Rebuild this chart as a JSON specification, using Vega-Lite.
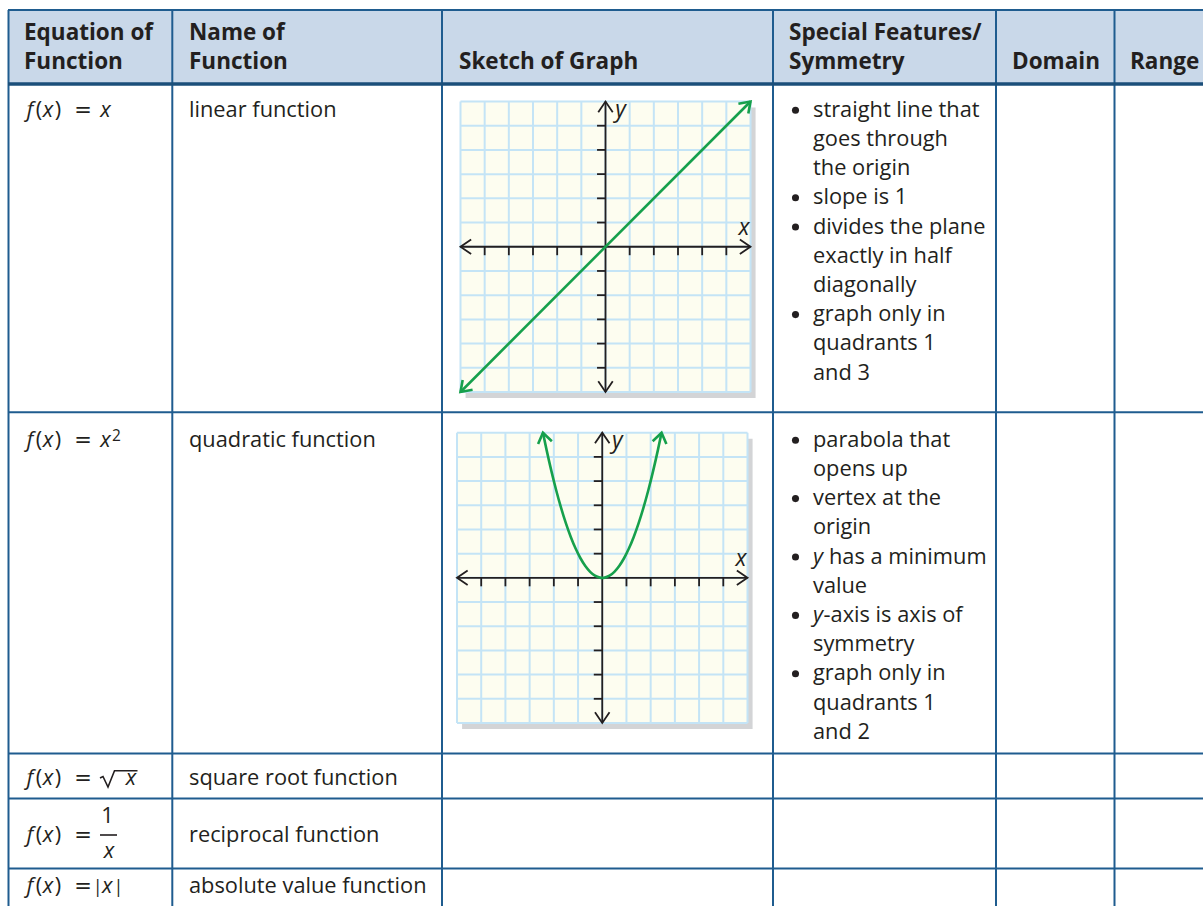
{
  "$schema": "https://vega.github.io/schema/vega-lite/v6.json",
  "width": 1203,
  "height": 906,
  "padding": 0,
  "autosize": {"type": "none"},
  "background": "white",
  "config": {
    "view": {"stroke": null},
    "text": {"font": "Open Sans", "fontSize": 21.8, "color": "#231f20", "baseline": "alphabetic"}
  },
  "datasets": {
    "hdr": [{"x": 8, "x2": 1203, "y": 10, "y2": 84}],
    "tl": [
      {"x": 8, "x2": 1203, "y": 10, "y2": 10, "k": "thin"},
      {"x": 8, "x2": 1203, "y": 412.3, "y2": 412.3, "k": "thin"},
      {"x": 8, "x2": 1203, "y": 753.5, "y2": 753.5, "k": "thin"},
      {"x": 8, "x2": 1203, "y": 798.5, "y2": 798.5, "k": "thin"},
      {"x": 8, "x2": 1203, "y": 868.5, "y2": 868.5, "k": "thin"},
      {"x": 8.5, "x2": 8.5, "y": 10, "y2": 906, "k": "thin"},
      {"x": 172.3, "x2": 172.3, "y": 10, "y2": 906, "k": "thin"},
      {"x": 442, "x2": 442, "y": 10, "y2": 906, "k": "thin"},
      {"x": 773, "x2": 773, "y": 10, "y2": 906, "k": "thin"},
      {"x": 996, "x2": 996, "y": 10, "y2": 906, "k": "thin"},
      {"x": 1114.5, "x2": 1114.5, "y": 10, "y2": 906, "k": "thin"},
      {"x": 8, "x2": 1203, "y": 84, "y2": 84, "k": "thick"},
      {"x": 100, "x2": 117, "y": 835, "y2": 835, "k": "math"}
    ],
    "rad": [
      {"x": 100, "y": 778, "o": 1},
      {"x": 103, "y": 776.5, "o": 2},
      {"x": 108, "y": 787, "o": 3},
      {"x": 114.5, "y": 770.7, "o": 4},
      {"x": 137.5, "y": 770.7, "o": 5}
    ],
    "txt": [
      {"x": 24, "y": 40, "t": "Equation of", "k": "head"},
      {"x": 24, "y": 69, "t": "Function", "k": "head"},
      {"x": 189, "y": 40, "t": "Name of", "k": "head"},
      {"x": 189, "y": 69, "t": "Function", "k": "head"},
      {"x": 459, "y": 69, "t": "Sketch of Graph", "k": "head"},
      {"x": 789, "y": 40, "t": "Special Features/", "k": "head"},
      {"x": 789, "y": 69, "t": "Symmetry", "k": "head"},
      {"x": 1012, "y": 69, "t": "Domain", "k": "head"},
      {"x": 1130, "y": 69, "t": "Range", "k": "head"},

      {"x": 189, "y": 116.7, "t": "linear function", "k": "body"},
      {"x": 189, "y": 446.7, "t": "quadratic function", "k": "body"},
      {"x": 189, "y": 785, "t": "square root function", "k": "body"},
      {"x": 189, "y": 841.7, "t": "reciprocal function", "k": "body"},
      {"x": 189, "y": 892.7, "t": "absolute value function", "k": "body"},

      {"x": 813, "y": 116.7, "t": "straight line that", "k": "body"},
      {"x": 813, "y": 145.9, "t": "goes through", "k": "body"},
      {"x": 813, "y": 175.1, "t": "the origin", "k": "body"},
      {"x": 813, "y": 204.3, "t": "slope is 1", "k": "body"},
      {"x": 813, "y": 233.5, "t": "divides the plane", "k": "body"},
      {"x": 813, "y": 262.7, "t": "exactly in half", "k": "body"},
      {"x": 813, "y": 291.9, "t": "diagonally", "k": "body"},
      {"x": 813, "y": 321.1, "t": "graph only in", "k": "body"},
      {"x": 813, "y": 350.3, "t": "quadrants 1", "k": "body"},
      {"x": 813, "y": 379.5, "t": "and 3", "k": "body"},
      {"x": 795.5, "y": 116.7, "t": "•", "k": "bul"},
      {"x": 795.5, "y": 204.3, "t": "•", "k": "bul"},
      {"x": 795.5, "y": 233.5, "t": "•", "k": "bul"},
      {"x": 795.5, "y": 321.1, "t": "•", "k": "bul"},

      {"x": 813, "y": 446.7, "t": "parabola that", "k": "body"},
      {"x": 813, "y": 475.9, "t": "opens up", "k": "body"},
      {"x": 813, "y": 505.1, "t": "vertex at the", "k": "body"},
      {"x": 813, "y": 534.3, "t": "origin", "k": "body"},
      {"x": 813, "y": 563.5, "t": "y", "k": "il"},
      {"x": 829, "y": 563.5, "t": "has a minimum", "k": "body"},
      {"x": 813, "y": 592.7, "t": "value", "k": "body"},
      {"x": 813, "y": 621.9, "t": "y", "k": "il"},
      {"x": 823.5, "y": 621.9, "t": "-axis is axis of", "k": "body"},
      {"x": 813, "y": 651.1, "t": "symmetry", "k": "body"},
      {"x": 813, "y": 680.3, "t": "graph only in", "k": "body"},
      {"x": 813, "y": 709.5, "t": "quadrants 1", "k": "body"},
      {"x": 813, "y": 738.7, "t": "and 2", "k": "body"},
      {"x": 795.5, "y": 446.7, "t": "•", "k": "bul"},
      {"x": 795.5, "y": 505.1, "t": "•", "k": "bul"},
      {"x": 795.5, "y": 563.5, "t": "•", "k": "bul"},
      {"x": 795.5, "y": 621.9, "t": "•", "k": "bul"},
      {"x": 795.5, "y": 680.3, "t": "•", "k": "bul"},

      {"x": 30, "y": 116.7, "t": "f", "k": "ic"},
      {"x": 39, "y": 116.7, "t": "(", "k": "uc"},
      {"x": 48, "y": 116.7, "t": "x", "k": "ic"},
      {"x": 58, "y": 116.7, "t": ")", "k": "uc"},
      {"x": 83, "y": 116.7, "t": "=", "k": "eq"},
      {"x": 105.5, "y": 116.7, "t": "x", "k": "ic"},

      {"x": 30, "y": 446.7, "t": "f", "k": "ic"},
      {"x": 39, "y": 446.7, "t": "(", "k": "uc"},
      {"x": 48, "y": 446.7, "t": "x", "k": "ic"},
      {"x": 58, "y": 446.7, "t": ")", "k": "uc"},
      {"x": 83, "y": 446.7, "t": "=", "k": "eq"},
      {"x": 105.5, "y": 446.7, "t": "x", "k": "ic"},
      {"x": 116.5, "y": 440.7, "t": "2", "k": "sup"},

      {"x": 30, "y": 785, "t": "f", "k": "ic"},
      {"x": 39, "y": 785, "t": "(", "k": "uc"},
      {"x": 48, "y": 785, "t": "x", "k": "ic"},
      {"x": 58, "y": 785, "t": ")", "k": "uc"},
      {"x": 83, "y": 785, "t": "=", "k": "eq"},
      {"x": 131, "y": 785, "t": "x", "k": "ic"},

      {"x": 30, "y": 841.7, "t": "f", "k": "ic"},
      {"x": 39, "y": 841.7, "t": "(", "k": "uc"},
      {"x": 48, "y": 841.7, "t": "x", "k": "ic"},
      {"x": 58, "y": 841.7, "t": ")", "k": "uc"},
      {"x": 83, "y": 841.7, "t": "=", "k": "eq"},
      {"x": 107.5, "y": 823.3, "t": "1", "k": "uc"},
      {"x": 109, "y": 858.3, "t": "x", "k": "ic"},

      {"x": 30, "y": 892.7, "t": "f", "k": "ic"},
      {"x": 39, "y": 892.7, "t": "(", "k": "uc"},
      {"x": 48, "y": 892.7, "t": "x", "k": "ic"},
      {"x": 58, "y": 892.7, "t": ")", "k": "uc"},
      {"x": 83, "y": 892.7, "t": "=", "k": "eq"},
      {"x": 97.8, "y": 892.7, "t": "|", "k": "bar"},
      {"x": 107.3, "y": 892.7, "t": "x", "k": "ic"},
      {"x": 118.5, "y": 892.7, "t": "|", "k": "bar"}
    ],
    "gbox": [
      {"x": -5.79, "y": -6.25, "x2": 6.21, "y2": 5.75, "k": "shadow"},
      {"x": -6, "y": -6, "x2": 6, "y2": 6, "k": "bg"}
    ],
    "ggrid": [
      {"x": -6, "y": -6, "x2": -6, "y2": 6}, {"x": -5, "y": -6, "x2": -5, "y2": 6},
      {"x": -4, "y": -6, "x2": -4, "y2": 6}, {"x": -3, "y": -6, "x2": -3, "y2": 6},
      {"x": -2, "y": -6, "x2": -2, "y2": 6}, {"x": -1, "y": -6, "x2": -1, "y2": 6},
      {"x": 0, "y": -6, "x2": 0, "y2": 6}, {"x": 1, "y": -6, "x2": 1, "y2": 6},
      {"x": 2, "y": -6, "x2": 2, "y2": 6}, {"x": 3, "y": -6, "x2": 3, "y2": 6},
      {"x": 4, "y": -6, "x2": 4, "y2": 6}, {"x": 5, "y": -6, "x2": 5, "y2": 6},
      {"x": 6, "y": -6, "x2": 6, "y2": 6},
      {"x": -6, "y": -6, "x2": 6, "y2": -6}, {"x": -6, "y": -5, "x2": 6, "y2": -5},
      {"x": -6, "y": -4, "x2": 6, "y2": -4}, {"x": -6, "y": -3, "x2": 6, "y2": -3},
      {"x": -6, "y": -2, "x2": 6, "y2": -2}, {"x": -6, "y": -1, "x2": 6, "y2": -1},
      {"x": -6, "y": 0, "x2": 6, "y2": 0}, {"x": -6, "y": 1, "x2": 6, "y2": 1},
      {"x": -6, "y": 2, "x2": 6, "y2": 2}, {"x": -6, "y": 3, "x2": 6, "y2": 3},
      {"x": -6, "y": 4, "x2": 6, "y2": 4}, {"x": -6, "y": 5, "x2": 6, "y2": 5},
      {"x": -6, "y": 6, "x2": 6, "y2": 6}
    ],
    "gaxes": [
      {"x": -6, "y": 0, "x2": 6, "y2": 0}, {"x": 0, "y": -6, "x2": 0, "y2": 6},
      {"x": -5, "y": 0, "x2": -5, "y2": -0.35}, {"x": -4, "y": 0, "x2": -4, "y2": -0.35},
      {"x": -3, "y": 0, "x2": -3, "y2": -0.35}, {"x": -2, "y": 0, "x2": -2, "y2": -0.35},
      {"x": -1, "y": 0, "x2": -1, "y2": -0.35}, {"x": 1, "y": 0, "x2": 1, "y2": -0.35},
      {"x": 2, "y": 0, "x2": 2, "y2": -0.35}, {"x": 3, "y": 0, "x2": 3, "y2": -0.35},
      {"x": 4, "y": 0, "x2": 4, "y2": -0.35}, {"x": 5, "y": 0, "x2": 5, "y2": -0.35},
      {"x": 0, "y": -5, "x2": -0.35, "y2": -5}, {"x": 0, "y": -4, "x2": -0.35, "y2": -4},
      {"x": 0, "y": -3, "x2": -0.35, "y2": -3}, {"x": 0, "y": -2, "x2": -0.35, "y2": -2},
      {"x": 0, "y": -1, "x2": -0.35, "y2": -1}, {"x": 0, "y": 1, "x2": -0.35, "y2": 1},
      {"x": 0, "y": 2, "x2": -0.35, "y2": 2}, {"x": 0, "y": 3, "x2": -0.35, "y2": 3},
      {"x": 0, "y": 4, "x2": -0.35, "y2": 4}, {"x": 0, "y": 5, "x2": -0.35, "y2": 5}
    ],
    "gchev": [
      {"id": "a1", "o": 1, "x": 5.56, "y": 0.3}, {"id": "a1", "o": 2, "x": 6, "y": 0}, {"id": "a1", "o": 3, "x": 5.56, "y": -0.3},
      {"id": "a2", "o": 1, "x": -5.56, "y": 0.3}, {"id": "a2", "o": 2, "x": -6, "y": 0}, {"id": "a2", "o": 3, "x": -5.56, "y": -0.3},
      {"id": "a3", "o": 1, "x": -0.3, "y": 5.56}, {"id": "a3", "o": 2, "x": 0, "y": 6}, {"id": "a3", "o": 3, "x": 0.3, "y": 5.56},
      {"id": "a4", "o": 1, "x": -0.3, "y": -5.56}, {"id": "a4", "o": 2, "x": 0, "y": -6}, {"id": "a4", "o": 3, "x": 0.3, "y": -5.56}
    ],
    "glbl": [
      {"x": 0.4, "y": 5.35, "t": "y"},
      {"x": 5.5, "y": 0.47, "t": "x"}
    ],
    "lin": [
      {"x": -6, "y": -6},
      {"x": 6, "y": 6}
    ],
    "par": [
      {"x": -2.45, "y": 6.0}, {"x": -2.3, "y": 5.29}, {"x": -2.1, "y": 4.41},
      {"x": -1.9, "y": 3.61}, {"x": -1.7, "y": 2.89}, {"x": -1.5, "y": 2.25},
      {"x": -1.3, "y": 1.69}, {"x": -1.1, "y": 1.21}, {"x": -0.9, "y": 0.81},
      {"x": -0.7, "y": 0.49}, {"x": -0.5, "y": 0.25}, {"x": -0.3, "y": 0.09},
      {"x": -0.1, "y": 0.01}, {"x": 0, "y": 0}, {"x": 0.1, "y": 0.01},
      {"x": 0.3, "y": 0.09}, {"x": 0.5, "y": 0.25}, {"x": 0.7, "y": 0.49},
      {"x": 0.9, "y": 0.81}, {"x": 1.1, "y": 1.21}, {"x": 1.3, "y": 1.69},
      {"x": 1.5, "y": 2.25}, {"x": 1.7, "y": 2.89}, {"x": 1.9, "y": 3.61},
      {"x": 2.1, "y": 4.41}, {"x": 2.3, "y": 5.29}, {"x": 2.45, "y": 6.0}
    ],
    "grchev": [
      {"g": 1, "id": "c1", "o": 1, "x": 5.5, "y": 5.91}, {"g": 1, "id": "c1", "o": 2, "x": 6, "y": 6}, {"g": 1, "id": "c1", "o": 3, "x": 5.91, "y": 5.5},
      {"g": 1, "id": "c2", "o": 1, "x": -5.5, "y": -5.91}, {"g": 1, "id": "c2", "o": 2, "x": -6, "y": -6}, {"g": 1, "id": "c2", "o": 3, "x": -5.91, "y": -5.5},
      {"g": 2, "id": "p1", "o": 1, "x": 2.082, "y": 5.646}, {"g": 2, "id": "p1", "o": 2, "x": 2.45, "y": 6}, {"g": 2, "id": "p1", "o": 3, "x": 2.65, "y": 5.53},
      {"g": 2, "id": "p2", "o": 1, "x": -2.082, "y": 5.646}, {"g": 2, "id": "p2", "o": 2, "x": -2.45, "y": 6}, {"g": 2, "id": "p2", "o": 3, "x": -2.65, "y": 5.53}
    ]
  },
  "resolve": {"scale": {"x": "independent", "y": "independent"}},
  "layer": [
    {
      "encoding": {
        "x": {"field": "x", "type": "quantitative", "scale": {"domain": [0, 1203], "range": [0, 1203], "nice": false, "zero": false}, "axis": null},
        "y": {"field": "y", "type": "quantitative", "scale": {"domain": [0, 906], "range": [0, 906], "nice": false, "zero": false}, "axis": null}
      },
      "layer": [
        {"data": {"name": "hdr"}, "mark": {"type": "rect", "color": "#c9d8e9"}, "encoding": {"x2": {"field": "x2"}, "y2": {"field": "y2"}}},
        {"data": {"name": "txt"}, "transform": [{"filter": "datum.k === 'head'"}], "mark": {"type": "text", "fontWeight": "bold", "align": "left", "fontSize": 22.5}, "encoding": {"text": {"field": "t"}}},
        {"data": {"name": "txt"}, "transform": [{"filter": "datum.k === 'body'"}], "mark": {"type": "text", "align": "left"}, "encoding": {"text": {"field": "t"}}},
        {"data": {"name": "txt"}, "transform": [{"filter": "datum.k === 'il'"}], "mark": {"type": "text", "align": "left", "fontStyle": "italic"}, "encoding": {"text": {"field": "t"}}},
        {"data": {"name": "txt"}, "transform": [{"filter": "datum.k === 'uc'"}], "mark": {"type": "text", "align": "center"}, "encoding": {"text": {"field": "t"}}},
        {"data": {"name": "txt"}, "transform": [{"filter": "datum.k === 'bar'"}], "mark": {"type": "text", "align": "center", "fontSize": 18}, "encoding": {"text": {"field": "t"}}},
        {"data": {"name": "txt"}, "transform": [{"filter": "datum.k === 'eq'"}], "mark": {"type": "text", "align": "center", "font": "DejaVu Sans", "fontSize": 21}, "encoding": {"text": {"field": "t"}}},
        {"data": {"name": "txt"}, "transform": [{"filter": "datum.k === 'ic'"}], "mark": {"type": "text", "align": "center", "fontStyle": "italic"}, "encoding": {"text": {"field": "t"}}},
        {"data": {"name": "txt"}, "transform": [{"filter": "datum.k === 'sup'"}], "mark": {"type": "text", "align": "center", "fontSize": 15.5}, "encoding": {"text": {"field": "t"}}},
        {"data": {"name": "txt"}, "transform": [{"filter": "datum.k === 'bul'"}], "mark": {"type": "circle", "size": 50, "color": "#231f20", "opacity": 1, "yOffset": -6.5}, "encoding": {}},
        {"data": {"name": "rad"}, "mark": {"type": "line", "color": "#231f20", "strokeWidth": 1.6}, "encoding": {"order": {"field": "o"}}},
        {"data": {"name": "tl"}, "transform": [{"filter": "datum.k === 'math'"}], "mark": {"type": "rule", "color": "#231f20", "strokeWidth": 1.6}, "encoding": {"x2": {"field": "x2"}, "y2": {"field": "y2"}}},
        {"data": {"name": "tl"}, "transform": [{"filter": "datum.k === 'thin'"}], "mark": {"type": "rule", "color": "#1f5c8f", "strokeWidth": 2}, "encoding": {"x2": {"field": "x2"}, "y2": {"field": "y2"}}},
        {"data": {"name": "tl"}, "transform": [{"filter": "datum.k === 'thick'"}], "mark": {"type": "rule", "color": "#1b4f7a", "strokeWidth": 3.5}, "encoding": {"x2": {"field": "x2"}, "y2": {"field": "y2"}}}
      ]
    },
    {
      "encoding": {
        "x": {"field": "x", "type": "quantitative", "scale": {"domain": [-6, 6], "range": [460.5, 750.5], "nice": false, "zero": false}, "axis": null},
        "y": {"field": "y", "type": "quantitative", "scale": {"domain": [-6, 6], "range": [392, 101.5], "nice": false, "zero": false}, "axis": null}
      },
      "layer": [
        {"data": {"name": "gbox"}, "transform": [{"filter": "datum.k === 'shadow'"}], "mark": {"type": "rect", "color": "#d3d4d6"}, "encoding": {"x2": {"field": "x2"}, "y2": {"field": "y2"}}},
        {"data": {"name": "gbox"}, "transform": [{"filter": "datum.k === 'bg'"}], "mark": {"type": "rect", "color": "#fdfdf0"}, "encoding": {"x2": {"field": "x2"}, "y2": {"field": "y2"}}},
        {"data": {"name": "ggrid"}, "mark": {"type": "rule", "color": "#c4e4f6", "strokeWidth": 2}, "encoding": {"x2": {"field": "x2"}, "y2": {"field": "y2"}}},
        {"data": {"name": "gaxes"}, "mark": {"type": "rule", "color": "#231f20", "strokeWidth": 1.8}, "encoding": {"x2": {"field": "x2"}, "y2": {"field": "y2"}}},
        {"data": {"name": "gchev"}, "mark": {"type": "line", "color": "#231f20", "strokeWidth": 1.8}, "encoding": {"detail": {"field": "id"}, "order": {"field": "o"}}},
        {"data": {"name": "lin"}, "mark": {"type": "line", "color": "#16a04c", "strokeWidth": 2.6}, "encoding": {}},
        {"data": {"name": "grchev"}, "transform": [{"filter": "datum.g === 1"}], "mark": {"type": "line", "color": "#16a04c", "strokeWidth": 2.6}, "encoding": {"detail": {"field": "id"}, "order": {"field": "o"}}},
        {"data": {"name": "glbl"}, "mark": {"type": "text", "align": "left", "fontStyle": "italic", "fontSize": 23}, "encoding": {"text": {"field": "t"}}}
      ]
    },
    {
      "encoding": {
        "x": {"field": "x", "type": "quantitative", "scale": {"domain": [-6, 6], "range": [457, 747.5], "nice": false, "zero": false}, "axis": null},
        "y": {"field": "y", "type": "quantitative", "scale": {"domain": [-6, 6], "range": [723, 432.7], "nice": false, "zero": false}, "axis": null}
      },
      "layer": [
        {"data": {"name": "gbox"}, "transform": [{"filter": "datum.k === 'shadow'"}], "mark": {"type": "rect", "color": "#d3d4d6"}, "encoding": {"x2": {"field": "x2"}, "y2": {"field": "y2"}}},
        {"data": {"name": "gbox"}, "transform": [{"filter": "datum.k === 'bg'"}], "mark": {"type": "rect", "color": "#fdfdf0"}, "encoding": {"x2": {"field": "x2"}, "y2": {"field": "y2"}}},
        {"data": {"name": "ggrid"}, "mark": {"type": "rule", "color": "#c4e4f6", "strokeWidth": 2}, "encoding": {"x2": {"field": "x2"}, "y2": {"field": "y2"}}},
        {"data": {"name": "gaxes"}, "mark": {"type": "rule", "color": "#231f20", "strokeWidth": 1.8}, "encoding": {"x2": {"field": "x2"}, "y2": {"field": "y2"}}},
        {"data": {"name": "gchev"}, "mark": {"type": "line", "color": "#231f20", "strokeWidth": 1.8}, "encoding": {"detail": {"field": "id"}, "order": {"field": "o"}}},
        {"data": {"name": "par"}, "mark": {"type": "line", "color": "#16a04c", "strokeWidth": 2.6, "interpolate": "monotone"}, "encoding": {}},
        {"data": {"name": "grchev"}, "transform": [{"filter": "datum.g === 2"}], "mark": {"type": "line", "color": "#16a04c", "strokeWidth": 2.6}, "encoding": {"detail": {"field": "id"}, "order": {"field": "o"}}},
        {"data": {"name": "glbl"}, "mark": {"type": "text", "align": "left", "fontStyle": "italic", "fontSize": 23}, "encoding": {"text": {"field": "t"}}}
      ]
    }
  ]
}
